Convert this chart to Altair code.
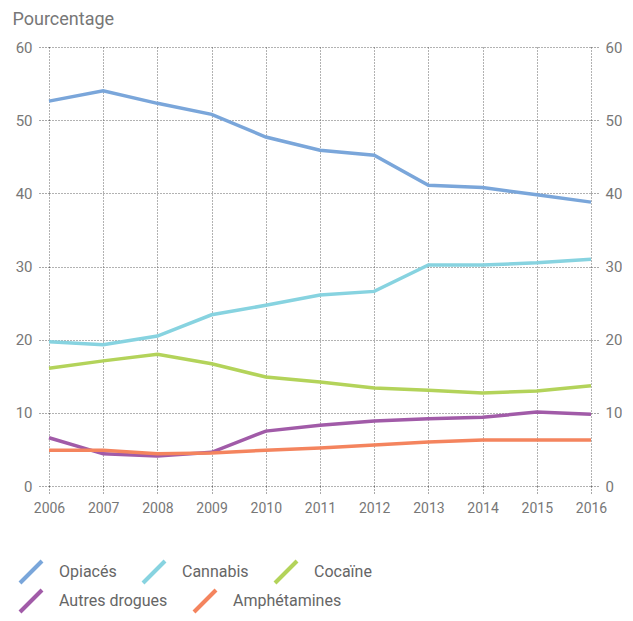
import altair as alt
import pandas as pd

years = list(range(2006, 2017))
series_names = ["Opiacés", "Cannabis", "Cocaïne", "Autres drogues", "Amphétamines"]
series_colors = ["#7aa6da", "#87d3e0", "#b3d35a", "#a15ba8", "#f4845e"]

opiaces = [52.6, 54.0, 52.3, 50.8, 47.7, 45.9, 45.2, 41.1, 40.8, 39.8, 38.8]
cannabis = [19.7, 19.3, 20.5, 23.4, 24.7, 26.1, 26.6, 30.2, 30.2, 30.5, 31.0]
cocaine = [16.1, 17.1, 18.0, 16.7, 14.9, 14.2, 13.4, 13.1, 12.7, 13.0, 13.7]
autres = [6.6, 4.4, 4.1, 4.6, 7.5, 8.3, 8.9, 9.2, 9.4, 10.1, 9.8]
amphet = [4.9, 4.9, 4.4, 4.5, 4.9, 5.2, 5.6, 6.0, 6.3, 6.3, 6.3]

y_ticks = [0, 10, 20, 30, 40, 50, 60]

rows = []
for name, vals in zip(series_names, [opiaces, cannabis, cocaine, autres, amphet]):
    for yr, v in zip(years, vals):
        rows.append({"annee": yr, "valeur": v, "serie": name})
df = pd.DataFrame(rows)

grid_color = "#555555"
label_color = "#777777"

x_enc = alt.X(
    "annee:Q",
    scale=alt.Scale(domain=[2006, 2016], nice=False),
    axis=alt.Axis(
        values=years, format="d", title=None, grid=True, gridDash=[1, 2],
        gridColor=grid_color, gridOpacity=0.9, domain=False, tickDash=[1, 2],
        tickColor=grid_color, tickSize=9, labelPadding=6, labelFontSize=14,
        labelColor=label_color, labelFlush=False,
    ),
)

y_scale = alt.Scale(domain=[0, 60], nice=False)

left_y = alt.Y(
    "valeur:Q", scale=y_scale,
    axis=alt.Axis(
        values=y_ticks, orient="left", title="Pourcentage", titleAngle=0,
        titleAlign="left", titleBaseline="alphabetic", titleX=-37, titleY=-23,
        titleFontSize=18, titleFontWeight="normal", titleColor=label_color,
        grid=True, gridDash=[1, 2], gridColor=grid_color, gridOpacity=0.9,
        domain=False, tickDash=[1, 2], tickColor=grid_color, tickSize=10,
        labelPadding=7, labelFontSize=15, labelColor=label_color,
    ),
)


def legend_at(y):
    return alt.Legend(
        title=None, orient="none", legendX=-31, legendY=y,
        direction="horizontal", columns=3,
        symbolType="M-1,1L1,-1", symbolSize=484, symbolStrokeWidth=4,
        labelFontSize=16, labelColor="#666666", labelOffset=15,
        columnPadding=18, rowPadding=8,
    )


first_names = series_names[:3]
second_names = series_names[3:]

lines_a = alt.Chart(df).transform_filter(
    alt.FieldOneOfPredicate(field="serie", oneOf=first_names)
).mark_line(strokeWidth=3.5).encode(
    x=x_enc,
    y=left_y,
    color=alt.Color(
        "serie:N",
        scale=alt.Scale(domain=first_names, range=series_colors[:3]),
        sort=first_names,
        legend=legend_at(512),
    ),
    order=alt.Order("annee:Q"),
)

lines_b = alt.Chart(df).transform_filter(
    alt.FieldOneOfPredicate(field="serie", oneOf=second_names)
).mark_line(strokeWidth=3.5).encode(
    x=x_enc,
    y=alt.Y("valeur:Q", scale=y_scale, axis=None),
    color=alt.Color(
        "serie:N",
        scale=alt.Scale(domain=second_names, range=series_colors[3:]),
        sort=second_names,
        legend=legend_at(541),
    ),
    order=alt.Order("annee:Q"),
)

right_axis = alt.Chart(df).mark_line(opacity=0).encode(
    x=x_enc,
    y=alt.Y(
        "valeur:Q", scale=y_scale,
        axis=alt.Axis(
            values=y_ticks, orient="right", title=None, grid=False, domain=False,
            tickDash=[1, 2], tickColor=grid_color, tickSize=9, labelPadding=5,
            labelFontSize=15, labelColor=label_color,
        ),
    ),
    detail="serie:N",
)

chart = alt.layer(lines_a, lines_b, right_axis).resolve_scale(
    color="independent"
).resolve_axis(y="independent").properties(
    width=542, height=439,
    padding={"left": 4, "right": 0, "top": 2, "bottom": 0},
).configure(font="Roboto").configure_view(stroke=None)

chart.save("out.html", embed_options={"renderer": "svg", "actions": False})
